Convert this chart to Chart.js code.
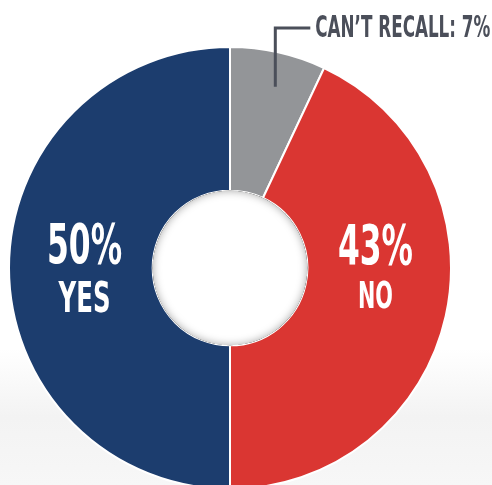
<!DOCTYPE html>
<html lang="en">
<head>
  <meta charset="UTF-8" />
  <title>Can't recall survey</title>
  <script src="https://cdn.jsdelivr.net/npm/chart.js"></script>
  <style>
    html, body { margin: 0; padding: 0; }
    body {
      width: 492px; height: 485px; overflow: hidden;
      background: linear-gradient(to bottom, #ffffff 0%, #ffffff 72%, #f3f3f3 86%, #f7f7f7 100%);
    }
    #wrap { position: relative; width: 492px; height: 485px; }
  </style>
</head>
<body>
  <div id="wrap"><canvas id="chart"></canvas></div>

  <script>
    const labels = ["CAN’T RECALL", "NO", "YES"];
    const values = [7, 43, 50];
    const colors = ['#939598', '#da3632', '#1c3d6e'];

    const FONT = '"Liberation Sans Narrow", "DejaVu Sans Condensed", "Roboto", sans-serif';

    // draw text squeezed horizontally so it fills a given width (condensed look)
    function fitText(ctx, text, x, y, size, width, color, align) {
      ctx.save();
      ctx.font = 'bold ' + size + 'px ' + FONT;
      ctx.fillStyle = color;
      ctx.textBaseline = 'alphabetic';
      const w = ctx.measureText(text).width;
      ctx.translate(x, y);
      ctx.scale(width / w, 1);
      ctx.textAlign = align || 'center';
      ctx.fillText(text, 0, 0);
      ctx.restore();
    }

    const labelPlugin = {
      id: 'labelPlugin',
      afterDatasetsDraw(chart) {
        const ctx = chart.ctx;
        const arcs = chart.getDatasetMeta(0).data;
        const cx = arcs[0].x, cy = arcs[0].y;
        const rIn = arcs[0].innerRadius, rOut = arcs[0].outerRadius;

        // soft shadow inside the hole
        ctx.save();
        ctx.beginPath();
        ctx.arc(cx, cy, rIn, 0, Math.PI * 2);
        ctx.fillStyle = '#ffffff';
        ctx.fill();
        ctx.clip();
        ctx.beginPath();
        ctx.arc(cx, cy, rIn + 10, 0, Math.PI * 2);
        ctx.lineWidth = 20;
        ctx.strokeStyle = '#000';
        ctx.shadowColor = 'rgba(0,0,0,0.35)';
        ctx.shadowBlur = 8;
        ctx.stroke();
        ctx.restore();

        const mid = (rIn + rOut) / 2 * 0.975;
        fitText(ctx, values[2] + '%', cx - mid, cy - 5, 56, 75, '#ffffff');
        fitText(ctx, labels[2], cx - mid, cy + 44, 42, 52, '#ffffff');
        fitText(ctx, values[1] + '%', cx + mid, cy - 4, 56, 75, '#ffffff');
        fitText(ctx, labels[1], cx + mid, cy + 40, 38, 35, '#ffffff');

        // callout for the gray slice
        const px = cx + rOut * 0.205;
        const py = cy - rOut * 0.82;
        ctx.save();
        ctx.strokeStyle = '#4b4f5a';
        ctx.lineWidth = 3;
        ctx.beginPath();
        ctx.moveTo(px, py);
        ctx.lineTo(px, 28);
        ctx.lineTo(px + 35, 28);
        ctx.stroke();
        ctx.restore();
        fitText(ctx, labels[0] + ': ' + values[0] + '%', px + 40, 37, 31, 175, '#4b4f5a', 'left');
      }
    };

    new Chart(document.getElementById('chart'), {
      type: 'doughnut',
      data: {
        labels: labels,
        datasets: [{
          data: values,
          backgroundColor: colors,
          borderColor: '#ffffff',
          borderWidth: 2,
          radius: 221,
          cutout: '35%'
        }]
      },
      options: {
        responsive: true,
        maintainAspectRatio: false,
        animation: false,
        layout: { padding: { top: 51, bottom: 0, left: 0, right: 32 } },
        plugins: {
          legend: { display: false },
          tooltip: { enabled: false }
        }
      },
      plugins: [labelPlugin]
    });
  </script>
</body>
</html>
